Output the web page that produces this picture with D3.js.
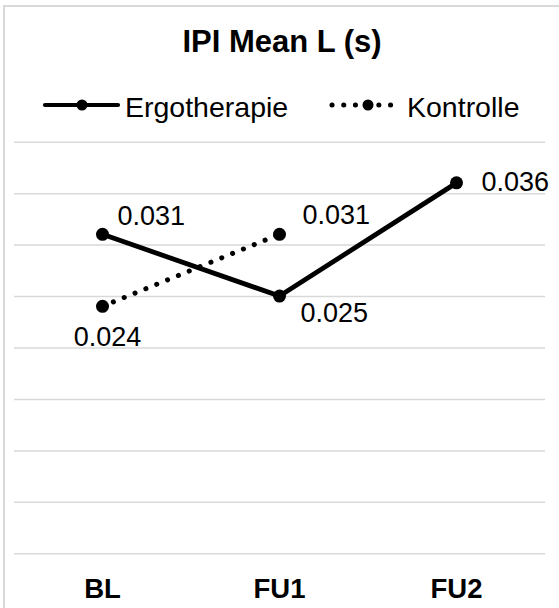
<!DOCTYPE html>
<html>
<head>
<meta charset="utf-8">
<script src="https://cdn.jsdelivr.net/npm/d3@7"></script>
<style>
  html, body { margin: 0; padding: 0; background: #fff; }
  svg { display: block; font-family: "Liberation Sans", Arial, sans-serif; }
</style>
</head>
<body>
<svg id="chart" width="559" height="608"></svg>
<script>
// Chart data
const categories = ["BL", "FU1", "FU2"];
const ergotherapie = [0.031, 0.025, 0.036];
const kontrolle = [0.024, 0.031, null];
const yTicks = [0, 0.005, 0.01, 0.015, 0.02, 0.025, 0.03, 0.035, 0.04];
const seriesNames = ["Ergotherapie", "Kontrolle"];
const title = "IPI Mean L (s)";

const svg = d3.select("#chart");
const W = 559, H = 608;
const plot = { left: 14, right: 545, top: 141.7, bottom: 553.3 };

// Outer chart border (light grey)
svg.append("rect")
  .attr("x", 4).attr("y", 6)
  .attr("width", W + 20).attr("height", H + 20)
  .attr("fill", "#fff").attr("stroke", "#d9d9d9").attr("stroke-width", 2);

const x = d3.scaleBand().domain(categories).range([plot.left, plot.right]);
const y = d3.scaleLinear().domain([0, 0.04]).range([plot.bottom, plot.top]);
const cx = c => x(c) + x.bandwidth() / 2;

// Horizontal gridlines
const grid = svg.append("g")
  .attr("transform", `translate(${plot.left},0)`)
  .call(d3.axisLeft(y).tickValues(yTicks).tickSize(-(plot.right - plot.left)).tickFormat(""));
grid.select(".domain").remove();
grid.selectAll(".tick line").attr("stroke", "#d9d9d9").attr("stroke-width", 1.5);

// Category axis labels
const xa = svg.append("g")
  .attr("transform", `translate(0,${plot.bottom})`)
  .call(d3.axisBottom(x).tickSize(0).tickPadding(0));
xa.select(".domain").remove();
xa.selectAll(".tick text")
  .attr("y", 45).attr("dy", null)
  .attr("font-size", 27.5).attr("font-weight", "bold")
  .attr("font-family", "'Liberation Sans', Arial, sans-serif")
  .attr("fill", "#000");

// Title
svg.append("text")
  .attr("x", 282).attr("y", 52)
  .attr("text-anchor", "middle")
  .attr("font-size", 31).attr("font-weight", "bold")
  .text(title);

// Series styles
const styles = {
  Ergotherapie: { dash: null, width: 4.8 },
  Kontrolle: { dash: "0.1 11.6", width: 5 }
};

const line = d3.line()
  .defined(d => d.v != null)
  .x(d => cx(d.c))
  .y(d => y(d.v));

function drawSeries(name, values) {
  const pts = categories.map((c, i) => ({ c, v: values[i] }));
  const st = styles[name];
  svg.append("path")
    .datum(pts)
    .attr("d", line)
    .attr("fill", "none")
    .attr("stroke", "#000")
    .attr("stroke-width", st.width)
    .attr("stroke-linecap", "round")
    .attr("stroke-linejoin", "round")
    .attr("stroke-dasharray", st.dash);
  svg.append("g").selectAll("circle")
    .data(pts.filter(d => d.v != null))
    .join("circle")
    .attr("cx", d => cx(d.c))
    .attr("cy", d => y(d.v))
    .attr("r", 6.5)
    .attr("fill", "#000");
  return pts;
}

const ergoPts = drawSeries("Ergotherapie", ergotherapie);
const kontPts = drawSeries("Kontrolle", kontrolle);

// Data labels; each label has an offset from its point
const labelOffsets = {
  Ergotherapie: [[15, -9, "start"], [21, 26, "start"], [25, 8, "start"]],
  Kontrolle: [[5, 40, "middle"], [23, -10, "start"], null]
};
const fmt = d3.format(".3f");
function drawLabels(name, pts) {
  pts.forEach((d, i) => {
    const off = labelOffsets[name][i];
    if (d.v == null || !off) return;
    svg.append("text")
      .attr("x", cx(d.c) + off[0])
      .attr("y", y(d.v) + off[1])
      .attr("text-anchor", off[2])
      .attr("font-size", 27)
      .attr("fill", "#000")
      .text(fmt(d.v));
  });
}
drawLabels("Ergotherapie", ergoPts);
drawLabels("Kontrolle", kontPts);

// Legend
const legendItems = [
  { name: seriesNames[0], x0: 45, x1: 118, mx: 82, tx: 125 },
  { name: seriesNames[1], x0: 332, x1: 398, mx: 368, tx: 407 }
];
const lg = svg.append("g");
legendItems.forEach(it => {
  const st = styles[it.name];
  lg.append("line")
    .attr("x1", it.x0).attr("x2", it.x1)
    .attr("y1", 105).attr("y2", 105)
    .attr("stroke", "#000")
    .attr("stroke-width", it.name === "Kontrolle" ? 5 : 4.2)
    .attr("stroke-linecap", "round")
    .attr("stroke-dasharray", st.dash);
  lg.append("circle")
    .attr("cx", it.mx).attr("cy", 105).attr("r", 5.5).attr("fill", "#000");
  lg.append("text")
    .attr("x", it.tx).attr("y", 116.5)
    .attr("font-size", 28.5)
    .attr("fill", "#000")
    .text(it.name);
});
</script>
</body>
</html>
